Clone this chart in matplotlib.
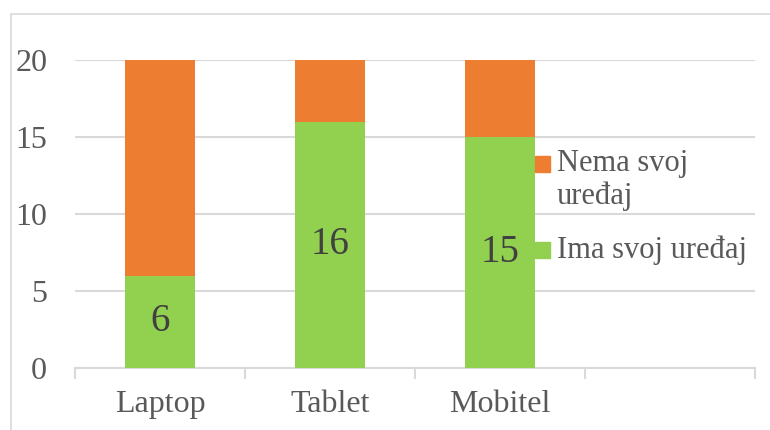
import numpy as np
import matplotlib.pyplot as plt
from matplotlib.patches import Rectangle

categories = ['Laptop', 'Tablet', 'Mobitel']
ima = [6, 16, 15]
nema = [14, 4, 5]
labels = ['Ima svoj uređaj', 'Nema svoj\nuređaj']

green = '#92D050'
orange = '#ED7D31'
grid_c = '#D9D9D9'
txt_c = '#595959'

plt.rcParams['font.family'] = ['Liberation Serif', 'DejaVu Serif']

fig = plt.figure(figsize=(7.7, 4.3), dpi=100)
W, H = 770, 430
fig.patches.append(Rectangle((11 / W, -0.1), 1.2, 1 - 14 / H + 0.1, transform=fig.transFigure,
                             fill=False, edgecolor=grid_c, linewidth=1.2))
ax = fig.add_axes([75 / W, 1 - 368 / H, 680 / W, 308 / H])

x = np.arange(len(categories))
b1 = ax.bar(x, ima, width=0.41, color=green, label=labels[0], zorder=3)
b2 = ax.bar(x, nema, width=0.41, bottom=ima, color=orange, label=labels[1], zorder=3)

for xi, v in zip(x, ima):
    ax.text(xi, v / 2, str(v), ha='center', va='center', fontsize=28, color='#404040', zorder=4)

ax.set_xlim(-0.5, 3.5)
ax.set_ylim(0, 20)
ax.set_yticks([0, 5, 10, 15, 20])
ax.yaxis.grid(True, color=grid_c, linewidth=1.5, zorder=0)
ax.tick_params(axis='y', length=0, pad=20, labelsize=23, labelcolor=txt_c)

ax.set_xticks(x)
ax.set_xticklabels(categories)
ax.set_xticks(np.arange(-0.5, 4, 1), minor=True)
ax.tick_params(axis='x', which='major', length=0, pad=16, labelsize=23, labelcolor=txt_c)
ax.tick_params(axis='x', which='minor', length=8, width=1.5, color=grid_c)

for s in ['top', 'right', 'left']:
    ax.spines[s].set_visible(False)
ax.spines['bottom'].set_color(grid_c)
ax.spines['bottom'].set_linewidth(1.5)

# legend drawn by hand so the marker sits on the first text line (Excel style)
legend_items = [(labels[1], orange, 164), (labels[0], green, 250)]
for lab, col, yc in legend_items:
    fig.patches.append(Rectangle((535 / W, 1 - (yc + 8) / H), 15 / W, 16 / H,
                                 transform=fig.transFigure, color=col))
    for i, line in enumerate(lab.split('\n')):
        fig.text(557 / W, 1 - (yc + 32 * i) / H, line, ha='left', va='center',
                 fontsize=22, color=txt_c)

fig.savefig('out.png', dpi=100)
